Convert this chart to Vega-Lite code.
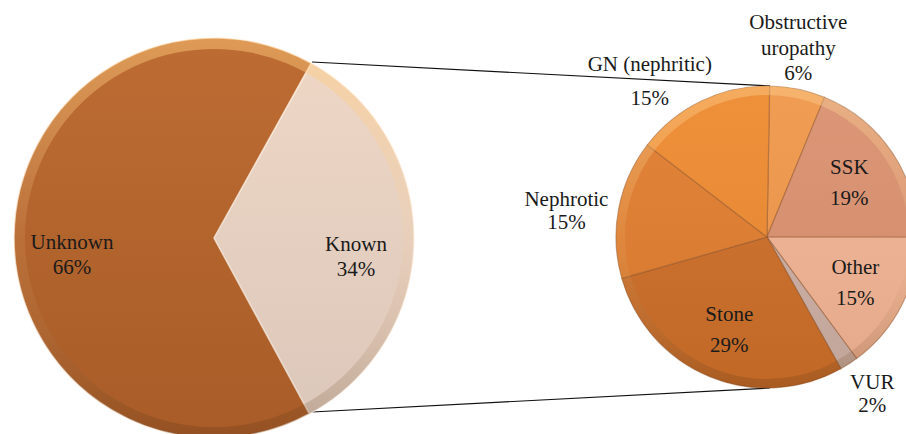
{
  "$schema": "https://vega.github.io/schema/vega-lite/v6.json",
  "width": 906,
  "height": 434,
  "padding": 0,
  "autosize": {"type": "none"},
  "background": "white",
  "config": {"view": {"stroke": null}},
  "datasets": {
    "overall": [
      {"cause": "Known", "pct": 34},
      {"cause": "Unknown", "pct": 66}
    ],
    "known": [
      {"cause": "Obstructive uropathy", "pct": 6},
      {"cause": "SSK", "pct": 19},
      {"cause": "Other", "pct": 15},
      {"cause": "VUR", "pct": 2},
      {"cause": "Stone", "pct": 29},
      {"cause": "Nephrotic", "pct": 15},
      {"cause": "GN (nephritic)", "pct": 15}
    ]
  },
  "resolve": {"scale": {"theta": "independent"}},
  "layer": [
    {
      "data": {"values": [{}]},
      "mark": {"type": "rule", "stroke": "#111111", "strokeWidth": 1.2},
      "encoding": {
        "x": {"datum": 312, "type": "quantitative", "scale": {"domain": [0, 906], "nice": false, "zero": false}, "axis": null},
        "y": {"datum": 62, "type": "quantitative", "scale": {"domain": [0, 434], "reverse": true, "nice": false, "zero": false}, "axis": null},
        "x2": {"datum": 770},
        "y2": {"datum": 86}
      }
    },
    {
      "data": {"values": [{}]},
      "mark": {"type": "rule", "stroke": "#111111", "strokeWidth": 1.2},
      "encoding": {
        "x": {"datum": 312, "type": "quantitative"},
        "y": {"datum": 412, "type": "quantitative"},
        "x2": {"datum": 770},
        "y2": {"datum": 388}
      }
    },
    {
      "data": {"name": "overall"},
      "transform": [{"stack": "pct", "groupby": [], "as": ["v0", "v1"]}],
      "mark": {"type": "arc", "outerRadius": 200, "stroke": "#fff4ea", "strokeWidth": 1.5, "strokeOpacity": 0.8},
      "encoding": {
        "x": {"datum": 214, "type": "quantitative"},
        "y": {"datum": 238, "type": "quantitative"},
        "theta": {"field": "v0", "type": "quantitative", "scale": {"domain": [0, 100], "range": [0.508, 6.791], "zero": false, "nice": false}},
        "theta2": {"field": "v1"},
        "color": {
          "field": "cause",
          "type": "nominal",
          "legend": null,
          "scale": {
            "domain": ["Known", "Unknown", "Obstructive uropathy", "SSK", "Other", "VUR", "Stone", "Nephrotic", "GN (nephritic)"],
            "range": ["#EDDACE", "#B5632B", "#F0974A", "#DA9170", "#F2B494", "#CDB0A5", "#CC6E28", "#E07D2E", "#EE8A30"]
          }
        }
      }
    },
    {
      "data": {"values": [{}]},
      "mark": {
        "type": "arc", "theta": 0, "theta2": 6.2832, "innerRadius": 0, "outerRadius": 200,
        "fill": {"gradient": "linear", "x1": 0, "y1": 0, "x2": 0, "y2": 1,
          "stops": [{"offset": 0, "color": "rgba(255,190,120,0.10)"}, {"offset": 1, "color": "rgba(60,30,10,0.10)"}]}
      },
      "encoding": {"x": {"datum": 214, "type": "quantitative"}, "y": {"datum": 238, "type": "quantitative"}}
    },
    {
      "data": {"values": [{}]},
      "mark": {
        "type": "arc", "theta": 0, "theta2": 6.2832, "innerRadius": 189, "outerRadius": 200,
        "fill": {"gradient": "linear", "x1": 0, "y1": 0, "x2": 0, "y2": 1,
          "stops": [{"offset": 0, "color": "rgba(255,200,120,0.50)"}, {"offset": 0.5, "color": "rgba(255,210,150,0.10)"}, {"offset": 1, "color": "rgba(70,35,10,0.22)"}]}
      },
      "encoding": {"x": {"datum": 214, "type": "quantitative"}, "y": {"datum": 238, "type": "quantitative"}}
    },
    {
      "data": {"name": "known"},
      "transform": [{"stack": "pct", "groupby": [], "as": ["v0", "v1"]}],
      "mark": {"type": "arc", "outerRadius": 151, "stroke": "#8a4b1e", "strokeWidth": 1.2, "strokeOpacity": 0.45},
      "encoding": {
        "x": {"datum": 767, "type": "quantitative"},
        "y": {"datum": 237, "type": "quantitative"},
        "theta": {"field": "v0", "type": "quantitative", "scale": {"domain": [0, 101], "range": [0.0175, 6.3007], "zero": false, "nice": false}},
        "theta2": {"field": "v1"},
        "color": {"field": "cause", "type": "nominal", "legend": null}
      }
    },
    {
      "data": {"values": [{}]},
      "mark": {
        "type": "arc", "theta": 0, "theta2": 6.2832, "innerRadius": 0, "outerRadius": 151,
        "fill": {"gradient": "linear", "x1": 0, "y1": 0, "x2": 0, "y2": 1,
          "stops": [{"offset": 0, "color": "rgba(255,255,255,0.05)"}, {"offset": 1, "color": "rgba(60,30,10,0.08)"}]}
      },
      "encoding": {"x": {"datum": 767, "type": "quantitative"}, "y": {"datum": 237, "type": "quantitative"}}
    },
    {
      "data": {"values": [{}]},
      "mark": {
        "type": "arc", "theta": 0, "theta2": 6.2832, "innerRadius": 142, "outerRadius": 151,
        "fill": {"gradient": "linear", "x1": 0, "y1": 0, "x2": 0, "y2": 1,
          "stops": [{"offset": 0, "color": "rgba(255,215,150,0.40)"}, {"offset": 0.5, "color": "rgba(255,215,150,0.10)"}, {"offset": 1, "color": "rgba(70,35,10,0.20)"}]}
      },
      "encoding": {"x": {"datum": 767, "type": "quantitative"}, "y": {"datum": 237, "type": "quantitative"}}
    },
    {
      "data": {"name": "overall"},
      "transform": [
        {"stack": "pct", "groupby": [], "as": ["v0", "v1"]},
        {"calculate": "(datum.v0 + datum.v1) / 2", "as": "mid"},
        {"calculate": "datum.cause + '\\n' + datum.pct + '%'", "as": "label"}
      ],
      "mark": {"type": "text", "radius": 142, "dy": 6, "font": "Liberation Serif", "fontSize": 21, "fill": "#1a1a1a", "lineBreak": "\n", "lineHeight": 25, "align": "center", "baseline": "middle"},
      "encoding": {
        "x": {"datum": 214, "type": "quantitative"},
        "y": {"datum": 238, "type": "quantitative"},
        "theta": {"field": "mid", "type": "quantitative", "scale": {"domain": [0, 100], "range": [0.508, 6.791], "zero": false, "nice": false}},
        "text": {"field": "label", "type": "nominal"}
      }
    },
    {
      "data": {"name": "known"},
      "transform": [
        {"stack": "pct", "groupby": [], "as": ["v0", "v1"]},
        {"calculate": "(datum.v0 + datum.v1) / 2", "as": "mid"},
        {"calculate": "datum.cause + '\\n' + datum.pct + '%'", "as": "label"},
        {"filter": {"field": "cause", "oneOf": ["SSK", "Other", "Stone"]}}
      ],
      "mark": {"type": "text", "radius": 99, "dy": -14, "font": "Liberation Serif", "fontSize": 21, "fill": "#1a1a1a", "lineBreak": "\n", "lineHeight": 31, "align": "center", "baseline": "middle"},
      "encoding": {
        "x": {"datum": 767, "type": "quantitative"},
        "y": {"datum": 237, "type": "quantitative"},
        "theta": {"field": "mid", "type": "quantitative", "scale": {"domain": [0, 101], "range": [0.0175, 6.3007], "zero": false, "nice": false}},
        "text": {"field": "label", "type": "nominal"}
      }
    },
    {
      "data": {"name": "known"},
      "transform": [
        {"stack": "pct", "groupby": [], "as": ["v0", "v1"]},
        {"calculate": "(datum.v0 + datum.v1) / 2", "as": "mid"},
        {"calculate": "replace(datum.cause, ' uropathy', '\\nuropathy') + '\\n' + datum.pct + '%'", "as": "label"},
        {"filter": {"field": "cause", "equal": "Obstructive uropathy"}}
      ],
      "mark": {"type": "text", "radius": 194, "dx": -8, "dy": -24, "font": "Liberation Serif", "fontSize": 21, "fill": "#1a1a1a", "lineBreak": "\n", "lineHeight": 25.5, "align": "center", "baseline": "middle"},
      "encoding": {
        "x": {"datum": 767, "type": "quantitative"},
        "y": {"datum": 237, "type": "quantitative"},
        "theta": {"field": "mid", "type": "quantitative", "scale": {"domain": [0, 101], "range": [0.0175, 6.3007], "zero": false, "nice": false}},
        "text": {"field": "label", "type": "nominal"}
      }
    },
    {
      "data": {"name": "known"},
      "transform": [
        {"stack": "pct", "groupby": [], "as": ["v0", "v1"]},
        {"calculate": "(datum.v0 + datum.v1) / 2", "as": "mid"},
        {"calculate": "datum.cause + '\\n' + datum.pct + '%'", "as": "label"},
        {"filter": {"field": "cause", "equal": "GN (nephritic)"}}
      ],
      "mark": {"type": "text", "radius": 194, "dx": -33, "dy": 3, "font": "Liberation Serif", "fontSize": 21, "fill": "#1a1a1a", "lineBreak": "\n", "lineHeight": 34, "align": "center", "baseline": "middle"},
      "encoding": {
        "x": {"datum": 767, "type": "quantitative"},
        "y": {"datum": 237, "type": "quantitative"},
        "theta": {"field": "mid", "type": "quantitative", "scale": {"domain": [0, 101], "range": [0.0175, 6.3007], "zero": false, "nice": false}},
        "text": {"field": "label", "type": "nominal"}
      }
    },
    {
      "data": {"name": "known"},
      "transform": [
        {"stack": "pct", "groupby": [], "as": ["v0", "v1"]},
        {"calculate": "(datum.v0 + datum.v1) / 2", "as": "mid"},
        {"calculate": "datum.cause + '\\n' + datum.pct + '%'", "as": "label"},
        {"filter": {"field": "cause", "equal": "Nephrotic"}}
      ],
      "mark": {"type": "text", "radius": 194, "dx": -10, "dy": -1, "font": "Liberation Serif", "fontSize": 21, "fill": "#1a1a1a", "lineBreak": "\n", "lineHeight": 23, "align": "center", "baseline": "middle"},
      "encoding": {
        "x": {"datum": 767, "type": "quantitative"},
        "y": {"datum": 237, "type": "quantitative"},
        "theta": {"field": "mid", "type": "quantitative", "scale": {"domain": [0, 101], "range": [0.0175, 6.3007], "zero": false, "nice": false}},
        "text": {"field": "label", "type": "nominal"}
      }
    },
    {
      "data": {"name": "known"},
      "transform": [
        {"stack": "pct", "groupby": [], "as": ["v0", "v1"]},
        {"calculate": "(datum.v0 + datum.v1) / 2", "as": "mid"},
        {"calculate": "datum.cause + '\\n' + datum.pct + '%'", "as": "label"},
        {"filter": {"field": "cause", "equal": "VUR"}}
      ],
      "mark": {"type": "text", "radius": 194, "dy": -17, "font": "Liberation Serif", "fontSize": 21, "fill": "#1a1a1a", "lineBreak": "\n", "lineHeight": 23, "align": "center", "baseline": "middle"},
      "encoding": {
        "x": {"datum": 767, "type": "quantitative"},
        "y": {"datum": 237, "type": "quantitative"},
        "theta": {"field": "mid", "type": "quantitative", "scale": {"domain": [0, 101], "range": [0.0175, 6.3007], "zero": false, "nice": false}},
        "text": {"field": "label", "type": "nominal"}
      }
    }
  ]
}
